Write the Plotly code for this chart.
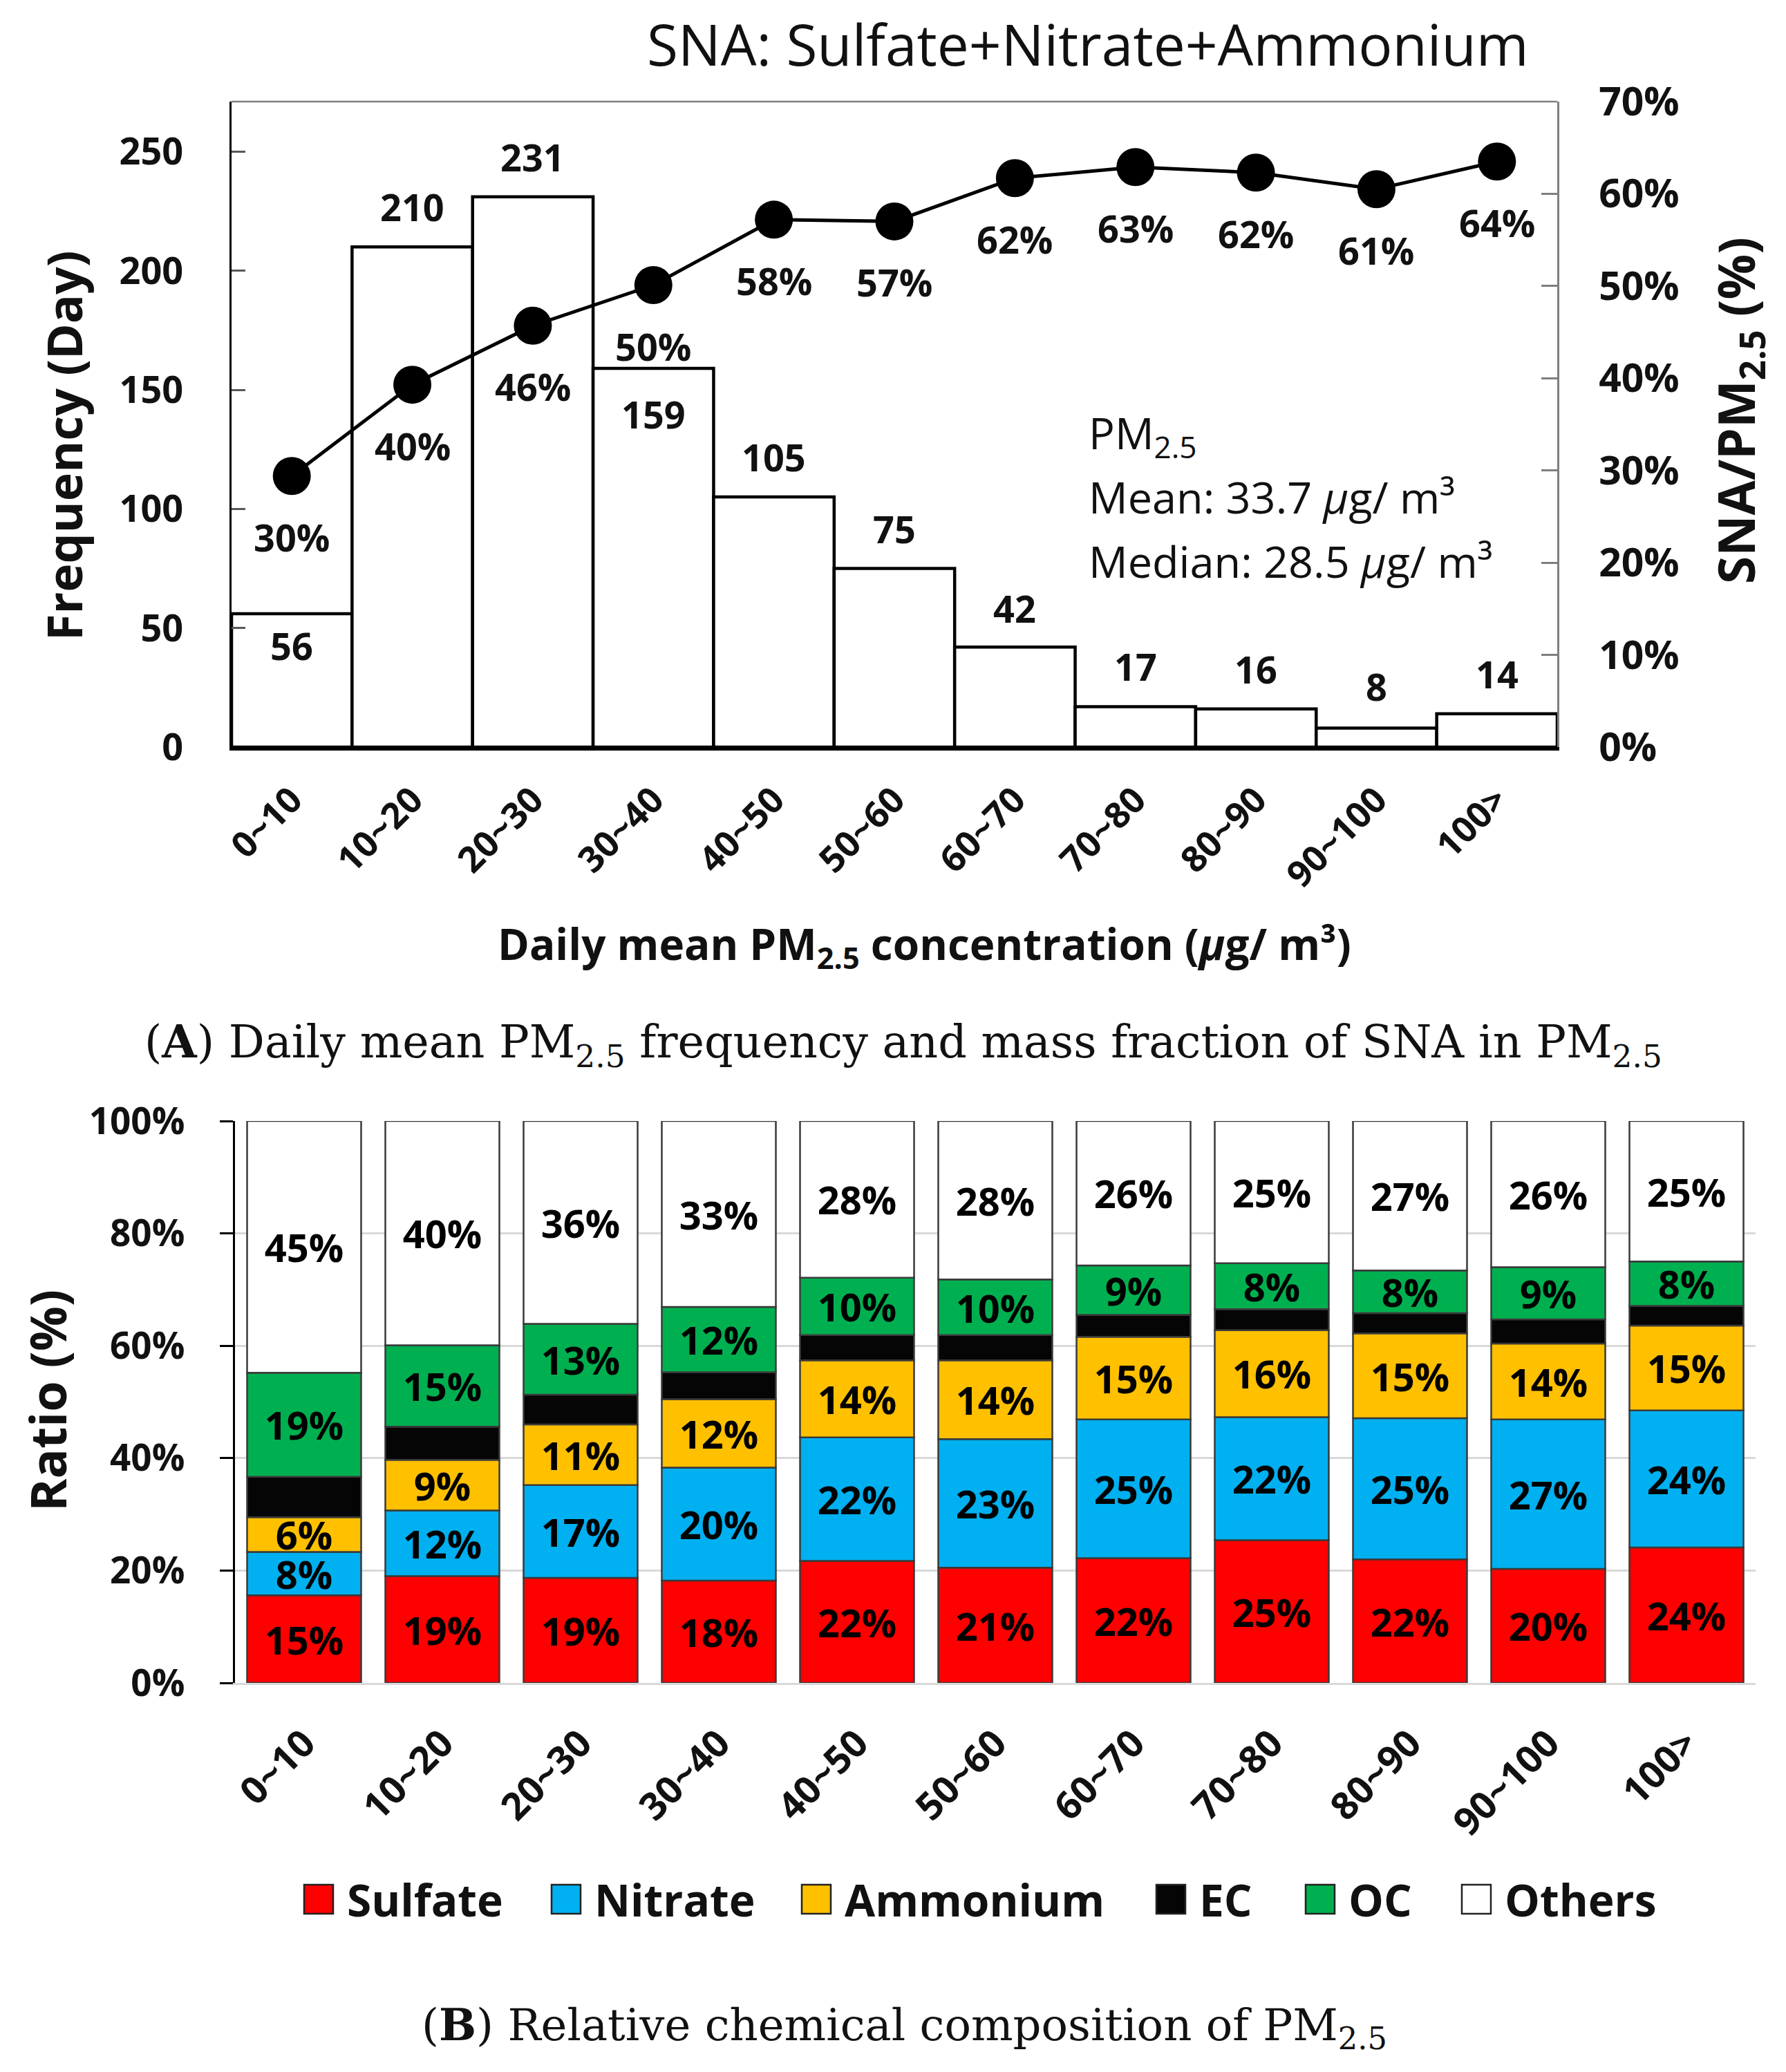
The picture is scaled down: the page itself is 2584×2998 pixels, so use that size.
import plotly.graph_objects as go

# canvas size and pixel -> paper helpers (page body adds an 8px margin)
W, H = 2584, 2998
OFF = 8


def px(x):
    return (x - OFF) / W


def py(y):
    return 1 - (y - OFF) / H


# ---- data -------------------------------------------------------------
bins = ["0~10", "10~20", "20~30", "30~40", "40~50", "50~60",
        "60~70", "70~80", "80~90", "90~100", "100>"]

# panel A
days = [56, 210, 231, 159, 105, 75, 42, 17, 16, 8, 14]
sna_ratio = [29.4, 39.3, 45.7, 50.1, 57.2, 57.0, 61.7, 62.9, 62.3, 60.5, 63.5]
sna_labels = [30, 40, 46, 50, 58, 57, 62, 63, 62, 61, 64]

# panel B (segment heights, labels as printed)
sulfate = [15.6, 19.0, 18.7, 18.2, 21.7, 20.5, 22.2, 25.4, 22.0, 20.3, 24.1]
nitrate = [7.7, 11.7, 16.5, 20.1, 22.0, 22.9, 24.7, 21.9, 25.1, 26.6, 24.4]
ammonium = [6.2, 9.0, 10.8, 12.2, 13.7, 14.0, 14.7, 15.5, 15.1, 13.5, 15.1]
ec = [7.2, 5.9, 5.3, 4.8, 4.5, 4.5, 3.9, 3.7, 3.6, 4.3, 3.5]
oc = [18.5, 14.5, 12.6, 11.6, 10.2, 9.9, 8.8, 8.2, 7.6, 9.3, 7.9]
others = [44.8, 39.9, 36.1, 33.1, 27.9, 28.2, 25.7, 25.3, 26.6, 26.0, 25.0]

sulfate_lbl = [15, 19, 19, 18, 22, 21, 22, 25, 22, 20, 24]
nitrate_lbl = [8, 12, 17, 20, 22, 23, 25, 22, 25, 27, 24]
ammonium_lbl = [6, 9, 11, 12, 14, 14, 15, 16, 15, 14, 15]
oc_lbl = [19, 15, 13, 12, 10, 10, 9, 8, 8, 9, 8]
others_lbl = [45, 40, 36, 33, 28, 28, 26, 25, 27, 26, 25]

# ---- style --------------------------------------------------------------
SANS = "Open Sans, sans-serif"
SERIF = "DejaVu Serif, serif"
INK = "#111111"

# vertical offset of each count label from its bar top (px)
count_shift = [-46, 58, 58, -66, 58, 58, 56, 58, 58, 60, 58]

fig = go.Figure()

# panel A: histogram bars
fig.add_trace(go.Bar(
    x=bins, y=days, width=1,
    marker=dict(color="white", line=dict(color="black", width=4.5)),
    xaxis="x", yaxis="y", showlegend=False, cliponaxis=False,
))

# panel A: SNA fraction line
fig.add_trace(go.Scatter(
    x=bins, y=sna_ratio, mode="lines+markers",
    line=dict(color="black", width=5),
    marker=dict(color="black", size=55),
    xaxis="x", yaxis="y2", showlegend=False, cliponaxis=False,
))

# panel B: stacked composition
segments = [
    ("Sulfate", sulfate, sulfate_lbl, "#FF0000"),
    ("Nitrate", nitrate, nitrate_lbl, "#00B0F0"),
    ("Ammonium", ammonium, ammonium_lbl, "#FFC000"),
    ("EC", ec, None, "#050505"),
    ("OC", oc, oc_lbl, "#00B050"),
    ("Others", others, others_lbl, "#FFFFFF"),
]
for name, vals, lbls, color in segments:
    fig.add_trace(go.Bar(
        name=name, x=bins, y=vals, width=0.825,
        marker=dict(color=color, line=dict(color="#3a3a3a", width=2.5)),
        text=[f"{v}%" for v in lbls] if lbls else None,
        textposition="inside", insidetextanchor="middle",
        textangle=0, constraintext="none",
        insidetextfont=dict(family=SANS, size=56, color="black", weight="bold"),
        xaxis="x2", yaxis="y3", showlegend=False, cliponaxis=False,
    ))

annotations = []

# count labels above / inside bars
for b, d, s in zip(bins, days, count_shift):
    annotations.append(dict(
        x=b, y=d, xref="x", yref="y", yshift=s, text=str(d), showarrow=False,
        font=dict(family=SANS, size=54, color=INK, weight="bold"),
    ))

# percentage labels under the markers
for b, r, l in zip(bins, sna_ratio, sna_labels):
    annotations.append(dict(
        x=b, y=r, xref="x", yref="y2", yshift=-88, text=f"{l}%", showarrow=False,
        font=dict(family=SANS, size=54, color=INK, weight="bold"),
    ))

# titles and notes (paper positions in pixels)
texts = [
    ("SNA: Sulfate+Nitrate+Ammonium", 1574, 63, 82, "normal", 0, "center", SANS),
    ("Frequency (Day)", 92, 645, 70, "bold", -90, "center", SANS),
    ("SNA/PM<sub>2.5</sub> (%)", 2515, 594, 73, "bold", -90, "center", SANS),
    ("Daily mean PM<sub>2.5</sub> concentration (<i>μ</i>g/ m³)", 1338, 1369, 62, "bold", 0, "center", SANS),
    ("PM<sub>2.5</sub>", 1573, 629, 63, "normal", 0, "left", SANS),
    ("Mean: 33.7 <i>μ</i>g/ m³", 1573, 719, 63, "normal", 0, "left", SANS),
    ("Median: 28.5 <i>μ</i>g/ m³", 1573, 811, 63, "normal", 0, "left", SANS),
    ("Ratio (%)", 68, 2027, 72, "bold", -90, "center", SANS),
    ("(<b>A</b>) Daily mean PM<sub>2.5</sub> frequency and mass fraction of SNA in PM<sub>2.5</sub>",
     1307, 1512, 65, "normal", 0, "center", SERIF),
    ("(<b>B</b>) Relative chemical composition of PM<sub>2.5</sub>",
     1308, 2934, 64, "normal", 0, "center", SERIF),
]
for t, x, y, size, weight, angle, align, fam in texts:
    annotations.append(dict(
        text=t, x=px(x), y=py(y), xref="paper", yref="paper",
        xanchor=align, yanchor="middle", textangle=angle, showarrow=False,
        font=dict(family=fam, size=size, color=INK, weight=weight),
    ))

# hand-built legend with large swatches
shapes = []
legend_left = [440, 798, 1160, 1673, 1889, 2115]
for (name, _, _, color), x0 in zip(segments, legend_left):
    shapes.append(dict(
        type="rect", xref="paper", yref="paper",
        x0=px(x0), x1=px(x0 + 42), y0=py(2769), y1=py(2727),
        fillcolor=color, line=dict(color="#222222", width=2.5),
    ))
    annotations.append(dict(
        text=name, x=px(x0 + 60), y=py(2748), xref="paper", yref="paper",
        xanchor="left", yanchor="middle", showarrow=False,
        font=dict(family=SANS, size=64, color=INK, weight="bold"),
    ))

# thin top border of panel A
shapes.append(dict(
    type="line", xref="x domain", yref="y domain", x0=0, x1=1, y0=1, y1=1,
    line=dict(color="#7f7f7f", width=2.5),
))

fig.update_layout(
    width=W, height=H,
    margin=dict(l=0, r=0, t=0, b=0, pad=0, autoexpand=False),
    paper_bgcolor="white", plot_bgcolor="white",
    barmode="relative",
    showlegend=False,
    font=dict(family=SANS, color=INK),
    xaxis=dict(
        domain=[px(335), px(2253)], anchor="y", type="category",
        range=[-0.5, len(bins) - 0.5], automargin=False,
        showline=True, linecolor="black", linewidth=5,
        ticks="", tickangle=-45, ticklabelstandoff=20,
        tickfont=dict(size=52, weight="bold", color=INK),
        showgrid=False,
    ),
    yaxis=dict(
        domain=[py(1081), py(147)], anchor="x", range=[0, 271], automargin=False,
        tickvals=[0, 50, 100, 150, 200, 250],
        ticks="inside", ticklen=20, tickwidth=2.5, tickcolor="#595959",
        ticklabelstandoff=56,
        showline=True, linecolor="black", linewidth=3,
        showgrid=False, zeroline=False,
        tickfont=dict(size=54, weight="bold", color=INK),
    ),
    yaxis2=dict(
        overlaying="y", side="right", anchor="x", range=[0, 70], dtick=10,
        automargin=False, ticksuffix="%",
        ticks="inside", ticklen=23, tickwidth=2.5, tickcolor="#7f7f7f",
        ticklabelstandoff=46,
        showline=True, linecolor="#7f7f7f", linewidth=2.5,
        showgrid=False, zeroline=False,
        tickfont=dict(size=57, weight="bold", color=INK),
    ),
    xaxis2=dict(
        domain=[px(340), px(2540)], anchor="y3", type="category",
        range=[-0.5, len(bins) - 0.5], automargin=False,
        showline=True, linecolor="#D9D9D9", linewidth=3,
        ticks="", tickangle=-45, ticklabelstandoff=30,
        tickfont=dict(size=55, weight="bold", color=INK),
        showgrid=False,
    ),
    yaxis3=dict(
        domain=[py(2435), py(1622)], anchor="x2", range=[0, 100], dtick=20,
        automargin=False, ticksuffix="%",
        ticks="outside", ticklen=19, tickwidth=3, tickcolor="black",
        ticklabelstandoff=40,
        showline=True, linecolor="black", linewidth=3,
        showgrid=True, gridcolor="#D9D9D9", gridwidth=2.5, zeroline=False,
        tickfont=dict(size=53, weight="bold", color=INK),
    ),
    annotations=annotations,
    shapes=shapes,
)

fig.write_html("out.html")
